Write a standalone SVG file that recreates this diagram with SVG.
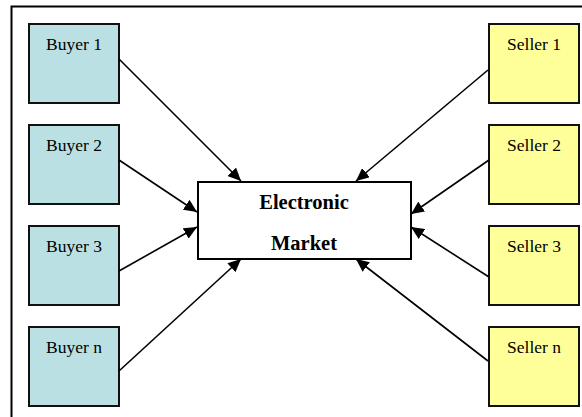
<svg xmlns="http://www.w3.org/2000/svg" width="582" height="417" viewBox="0 0 582 417">
<style>
.buyer{fill:#BBE0E3;stroke:#111;stroke-width:2}
.seller{fill:#FFFF99;stroke:#111;stroke-width:2}
.market{fill:#fff;stroke:#000;stroke-width:2}
.lbl{font-family:"Liberation Serif","Times New Roman",serif;font-size:17.5px;fill:#000;text-anchor:middle}
.mlbl{font-family:"Liberation Serif","Times New Roman",serif;font-size:20.5px;font-weight:bold;fill:#000;text-anchor:middle}
.conn line{stroke:#000;stroke-width:1.6;marker-end:url(#arr)}
</style>
<defs>
<marker id="arr" markerUnits="userSpaceOnUse" markerWidth="14" markerHeight="12" refX="13" refY="6" orient="auto">
<path d="M0,0 L13,6 L0,12 z" fill="#000"/>
</marker>
</defs>
<rect x="11.5" y="6.5" width="580" height="420" fill="#fff" stroke="#000" stroke-width="2"/>
<g id="buyer1"><rect class="buyer" x="29" y="24" width="90" height="79"/><text class="lbl" x="74" y="50">Buyer 1</text></g>
<g id="buyer2"><rect class="buyer" x="29" y="125" width="90" height="79"/><text class="lbl" x="74" y="151">Buyer 2</text></g>
<g id="buyer3"><rect class="buyer" x="29" y="226" width="90" height="79"/><text class="lbl" x="74" y="252">Buyer 3</text></g>
<g id="buyern"><rect class="buyer" x="29" y="327" width="90" height="79"/><text class="lbl" x="74" y="353">Buyer n</text></g>
<g id="seller1"><rect class="seller" x="489" y="24" width="90" height="79"/><text class="lbl" x="534" y="50">Seller 1</text></g>
<g id="seller2"><rect class="seller" x="489" y="125" width="90" height="79"/><text class="lbl" x="534" y="151">Seller 2</text></g>
<g id="seller3"><rect class="seller" x="489" y="226" width="90" height="79"/><text class="lbl" x="534" y="252">Seller 3</text></g>
<g id="sellern"><rect class="seller" x="489" y="327" width="90" height="79"/><text class="lbl" x="534" y="353">Seller n</text></g>
<g id="market"><rect class="market" x="198" y="182" width="213" height="77"/><text class="mlbl" x="304" y="209">Electronic</text><text class="mlbl" x="304" y="250">Market</text></g>
<g id="connectors" class="conn">
<line x1="119" y1="59" x2="241" y2="181"/>
<line x1="119" y1="160" x2="197" y2="212"/>
<line x1="119" y1="271" x2="197" y2="227"/>
<line x1="119" y1="371" x2="241" y2="259"/>
<line x1="488" y1="70" x2="356" y2="181"/>
<line x1="489" y1="160" x2="411" y2="214"/>
<line x1="489" y1="277" x2="411" y2="227"/>
<line x1="488" y1="361" x2="356" y2="259"/>
</g>
</svg>
